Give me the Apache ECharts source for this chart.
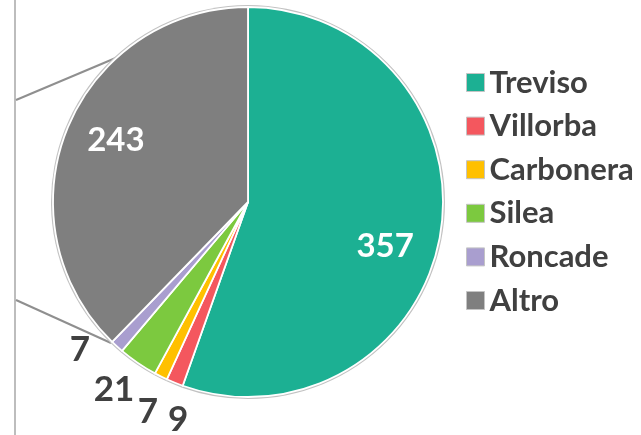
<!DOCTYPE html>
<html>
<head>
<meta charset="utf-8">
<script src="https://cdn.jsdelivr.net/npm/echarts@6/dist/echarts.min.js"></script>
<style>
  html, body { margin: 0; padding: 0; background: #fff; }
  #chart { width: 641px; height: 435px; }
</style>
</head>
<body>
<div id="chart"></div>
<script>
// slices, clockwise from 12 o'clock
const names = ['Treviso', 'Villorba', 'Carbonera', 'Silea', 'Roncade', 'Altro'];
const values = [357, 9, 7, 21, 7, 243];
const colors = ['#1cb093', '#f4575e', '#ffc000', '#7cc93f', '#a99ecf', '#7f7f7f'];
const insideLabel = [true, false, false, false, false, true];

const FONT = 'Lato, "Open Sans", sans-serif';
const cx = 248, cy = 202, R = 195;
// label tweaks (degrees / px) so the small outside labels don't pile up
const labelNudge = [8, -4.3, -1, 1.1, 6.4, 3.1];
const labelDist = [144, 229, 232, 231, 224, 146];

// mid angle of each slice in degrees, clockwise from top
const total = values.reduce((a, b) => a + b, 0);
let acc = 0;
const midAngles = values.map(v => {
  const m = (acc + v / 2) / total * 360;
  acc += v;
  return m;
});

function labelPos(i) {
  const a = (midAngles[i] + labelNudge[i]) * Math.PI / 180;
  const d = labelDist[i];
  return [cx + d * Math.sin(a), cy - d * Math.cos(a)];
}

const chart = echarts.init(document.getElementById('chart'), null, { renderer: 'canvas' });

const pieData = names.map((n, i) => ({
  name: n,
  value: values[i],
  itemStyle: { color: colors[i] },
  label: insideLabel[i]
    ? { color: '#ffffff', fontSize: 33 }
    : { color: '#404040', fontSize: 35 }
}));

const option = {
  animation: false,
  color: colors,
  legend: {
    orient: 'vertical',
    left: 461,
    top: 62,
    icon: 'rect',
    itemWidth: 18,
    itemHeight: 18,
    itemGap: 12.6,
    selectedMode: false,
    itemStyle: { borderColor: '#c4c4c4', borderWidth: 1 },
    textStyle: {
      fontFamily: FONT,
      fontWeight: 'bold',
      fontSize: 31,
      lineHeight: 30,
      color: '#404040',
      padding: [0, 0, 0, 0]
    },
    data: names
  },
  graphic: [
    { type: 'line', shape: { x1: 15, y1: 0, x2: 15, y2: 435 }, style: { stroke: '#bdbdbd', lineWidth: 2 }, silent: true },
    { type: 'line', shape: { x1: 16, y1: 100, x2: 118, y2: 57 }, style: { stroke: '#8f8f8f', lineWidth: 2 }, silent: true },
    { type: 'line', shape: { x1: 16, y1: 300, x2: 111, y2: 343 }, style: { stroke: '#8f8f8f', lineWidth: 2 }, silent: true }
  ],
  series: [
    {
      // thin grey outline behind the pie
      type: 'pie',
      silent: true,
      z: 1,
      center: [cx, cy],
      radius: R + 2,
      startAngle: 90,
      label: { show: false },
      labelLine: { show: false },
      itemStyle: { color: '#c2c2c2', borderWidth: 0 },
      emphasis: { disabled: true },
      data: values.map((v, i) => ({ name: names[i] + ' ', value: v }))
    },
    {
      type: 'pie',
      z: 2,
      center: [cx, cy],
      radius: R,
      startAngle: 90,
      clockwise: true,
      avoidLabelOverlap: false,
      itemStyle: { borderColor: '#ffffff', borderWidth: 1.8 },
      label: {
        show: true,
        position: 'inside',
        formatter: '{c}',
        fontFamily: FONT,
        fontWeight: 'bold'
      },
      labelLine: { show: false },
      labelLayout: function (params) {
        const p = labelPos(params.dataIndex);
        return { x: p[0], y: p[1], align: 'center', verticalAlign: 'middle' };
      },
      emphasis: { disabled: true },
      data: pieData
    }
  ]
};

chart.setOption(option);
</script>
</body>
</html>
